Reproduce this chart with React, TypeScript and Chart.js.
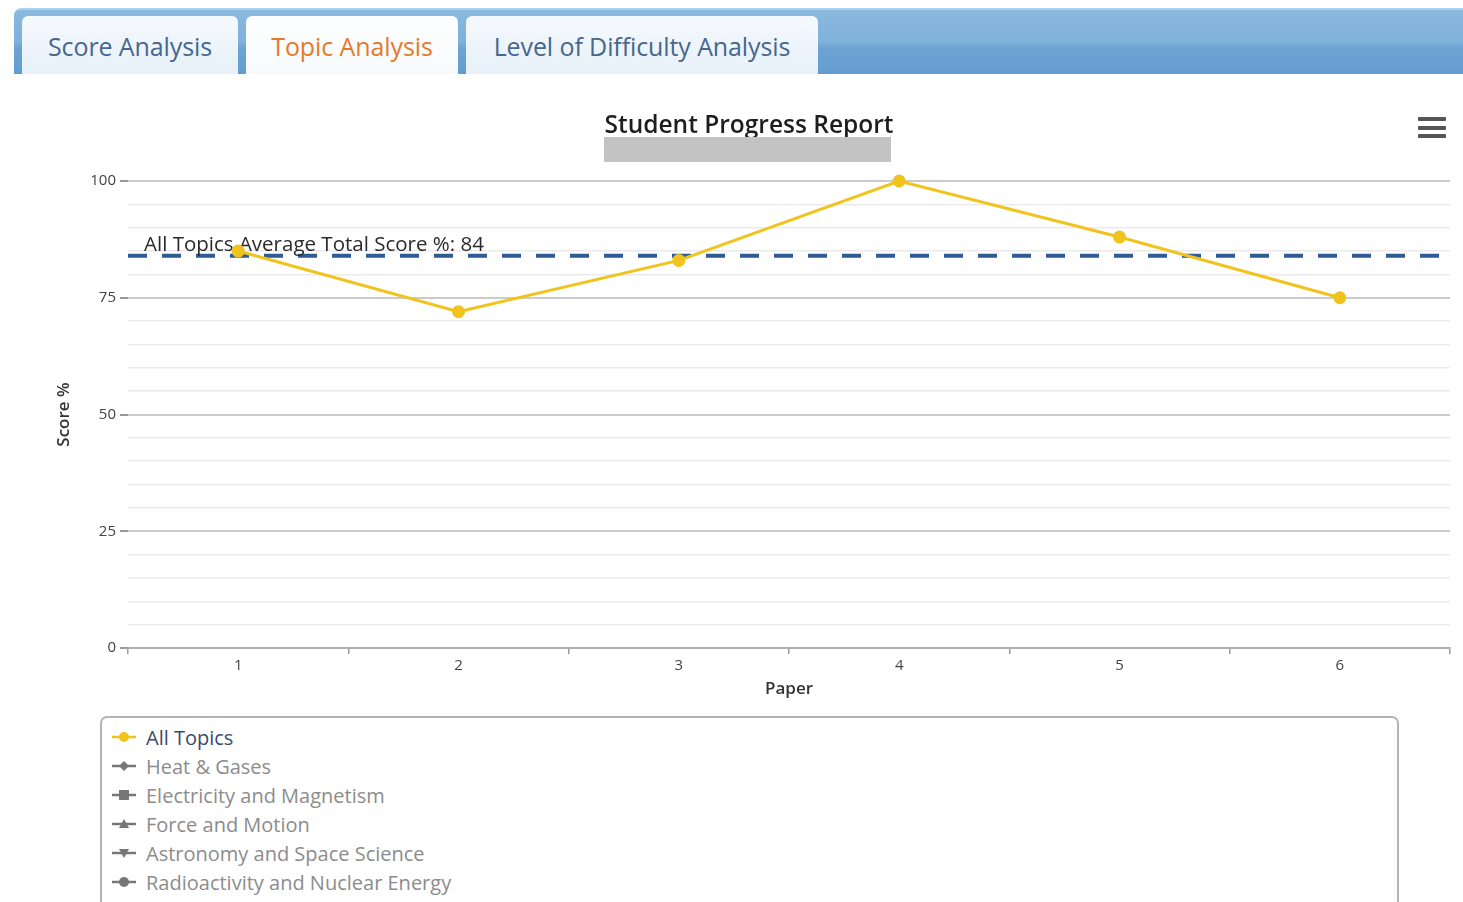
import React, { useEffect, useRef } from "react";
import { Chart, registerables } from "chart.js";

Chart.register(...registerables);

const papers = ["1", "2", "3", "4", "5", "6"];
const allTopicsScores = [85, 72, 83, 100, 88, 75];
const averageScore = 84;
const averageLabel = "All Topics Average Total Score %: 84";
const yMin = 0;
const yMax = 100;
const yStep = 5;
const yLabelStep = 25;
const tabs = ["Score Analysis", "Topic Analysis", "Level of Difficulty Analysis"];
const legendNames = [
  "All Topics",
  "Heat & Gases",
  "Electricity and Magnetism",
  "Force and Motion",
  "Astronomy and Space Science",
  "Radioactivity and Nuclear Energy",
];
const legendMarkers = ["circle", "diamond", "square", "triangle", "triangle-down", "circle"];

const FONT = "'Open Sans', 'DejaVu Sans', sans-serif";
const YELLOW = "#f1c31d";

const avgLinePlugin = {
  id: "avgLine",
  beforeDatasetsDraw(chart: any) {
    const { ctx, chartArea, scales } = chart;
    const y = scales.y.getPixelForValue(averageScore);
    ctx.save();
    ctx.beginPath();
    ctx.setLineDash([19, 15]);
    ctx.lineWidth = 4;
    ctx.strokeStyle = "#2f5b97";
    ctx.moveTo(chartArea.left, y);
    ctx.lineTo(chartArea.right, y);
    ctx.stroke();
    ctx.setLineDash([]);
    ctx.font = `20.5px ${FONT}`;
    ctx.fillStyle = "#2a2a2a";
    ctx.textBaseline = "alphabetic";
    ctx.textAlign = "left";
    ctx.fillText(averageLabel, chartArea.left + 16, y - 5);
    ctx.restore();
  },
};

function Marker({ shape, color }: { shape: string; color: string }) {
  let m: any = null;
  if (shape === "circle") m = <circle cx={12} cy={8} r={5} fill={color} />;
  if (shape === "diamond") m = <polygon points="12,3 17,8 12,13 7,8" fill={color} />;
  if (shape === "square") m = <rect x={7} y={3} width={10} height={10} fill={color} />;
  if (shape === "triangle") m = <polygon points="12,3 17,12 7,12" fill={color} />;
  if (shape === "triangle-down") m = <polygon points="7,4 17,4 12,13" fill={color} />;
  return (
    <svg width={24} height={16} style={{ display: "block" }}>
      <line x1={0} y1={8} x2={24} y2={8} stroke={color} strokeWidth={2.5} />
      {m}
    </svg>
  );
}

export default function App() {
  const ref = useRef<HTMLCanvasElement>(null);

  useEffect(() => {
    if (!ref.current) return;
    const chart = new Chart(ref.current, {
      type: "line",
      data: {
        labels: papers,
        datasets: [
          {
            label: legendNames[0],
            data: allTopicsScores,
            borderColor: YELLOW,
            backgroundColor: YELLOW,
            pointBackgroundColor: YELLOW,
            pointBorderColor: YELLOW,
            borderWidth: 3,
            pointRadius: 5,
            tension: 0,
            clip: false as any,
          },
        ],
      },
      options: {
        animation: false,
        responsive: true,
        maintainAspectRatio: false,
        layout: { padding: { left: 13, right: 13, top: 0, bottom: 10 } },
        plugins: {
          legend: { display: false },
          tooltip: { enabled: false },
          title: {
            display: true,
            text: "Student Progress Report",
            color: "#1e1e1e",
            font: { family: FONT, size: 24.5, weight: "600" as any, lineHeight: 1.2 },
            padding: { top: 21, bottom: 40.6 },
          },
        },
        scales: {
          x: {
            type: "category",
            offset: true,
            afterFit(scale: any) {
              scale.height = 52;
            },
            grid: {
              offset: true,
              drawOnChartArea: false,
              drawTicks: true,
              tickLength: 6,
              color: "#999",
              lineWidth: 1.5,
            },
            border: { display: true, color: "#b0b0b0", width: 2 },
            ticks: { color: "#444", font: { family: FONT, size: 15 }, padding: 3 },
            title: {
              display: true,
              text: "Paper",
              color: "#333",
              font: { family: FONT, size: 17, weight: "600" as any },
              padding: { top: 0, bottom: 1 },
            },
          },
          y: {
            min: yMin,
            max: yMax,
            afterFit(scale: any) {
              scale.width = 80;
            },
            border: { display: false },
            grid: {
              color: (c: any) => (c.tick && c.tick.value % yLabelStep === 0 ? "#cbcbcb" : "#ebebeb"),
              lineWidth: (c: any) => (c.tick && c.tick.value % yLabelStep === 0 ? 2 : 1.5),
              tickColor: (c: any) => (c.tick && c.tick.value % yLabelStep === 0 ? "#777" : "rgba(0,0,0,0)"),
              tickWidth: 1.5,
              tickLength: 8,
            },
            ticks: {
              stepSize: yStep,
              autoSkip: false,
              color: "#444",
              font: { family: FONT, size: 15 },
              padding: 4,
              callback: (v: any) => (Number(v) % yLabelStep === 0 ? String(v) : ""),
            },
            title: {
              display: true,
              text: "Score %",
              color: "#333",
              font: { family: FONT, size: 17, weight: "600" as any },
              padding: { top: 6, bottom: 0 },
            },
          },
        },
      },
      plugins: [avgLinePlugin],
    });
    return () => chart.destroy();
  }, []);

  const tabPos = [
    { left: 22, width: 216 },
    { left: 246, width: 212 },
    { left: 466, width: 352 },
  ];

  return (
    <div
      style={{
        position: "absolute",
        left: 0,
        top: 0,
        width: 1463,
        height: 902,
        overflow: "hidden",
        background: "#fff",
        fontFamily: FONT,
      }}
    >
      <div
        style={{
          position: "absolute",
          left: 14,
          top: 8,
          width: 1460,
          height: 66,
          borderTopLeftRadius: 7,
          borderTop: "2px solid #a9d1f1",
          boxSizing: "border-box",
          background: "linear-gradient(#8ab9df 0%, #80b1da 50%, #6da4d3 60%, #629ccf 100%)",
        }}
      />
      {tabs.map((t, i) => (
        <div
          key={t}
          style={{
            position: "absolute",
            left: tabPos[i].left,
            top: 16,
            width: tabPos[i].width,
            height: 58,
            boxSizing: "border-box",
            borderTopLeftRadius: 6,
            borderTopRightRadius: 6,
            background: i === 1 ? "linear-gradient(#fdfeff, #f7fafd)" : "linear-gradient(#f5f9fd, #e7f0f9)",
            display: "flex",
            alignItems: "center",
            justifyContent: "center",
            fontSize: 25,
            letterSpacing: -0.1,
            color: i === 1 ? "#e47a2c" : "#46678e",
            paddingTop: 1,
          }}
        >
          {t}
        </div>
      ))}
      <div
        style={{
          position: "absolute",
          left: 35,
          top: 90,
          width: 1428,
          height: 620,
        }}
      >
        <canvas ref={ref} />
      </div>
      <div
        style={{
          position: "absolute",
          left: 604,
          top: 137,
          width: 287,
          height: 25,
          background: "#c3c3c3",
        }}
      />
      {[0, 1, 2].map((k) => (
        <div
          key={k}
          style={{
            position: "absolute",
            left: 1418,
            top: 117 + k * 8.5,
            width: 28,
            height: 4,
            borderRadius: 1,
            background: "#555",
          }}
        />
      ))}
      <div
        style={{
          position: "absolute",
          left: 100,
          top: 716,
          width: 1299,
          height: 220,
          boxSizing: "border-box",
          border: "2px solid #b4b4b4",
          borderRadius: 7,
        }}
      />
      {legendNames.map((n, i) => (
        <div
          key={n}
          style={{
            position: "absolute",
            left: 112,
            top: 737 + i * 29 - 14,
            height: 28,
            display: "flex",
            alignItems: "center",
            fontSize: 20,
            color: i === 0 ? "#3b4a6c" : "#8c8c8c",
            whiteSpace: "nowrap",
          }}
        >
          <Marker shape={legendMarkers[i]} color={i === 0 ? YELLOW : "#777"} />
          <span style={{ marginLeft: 10 }}>{n}</span>
        </div>
      ))}
    </div>
  );
}
